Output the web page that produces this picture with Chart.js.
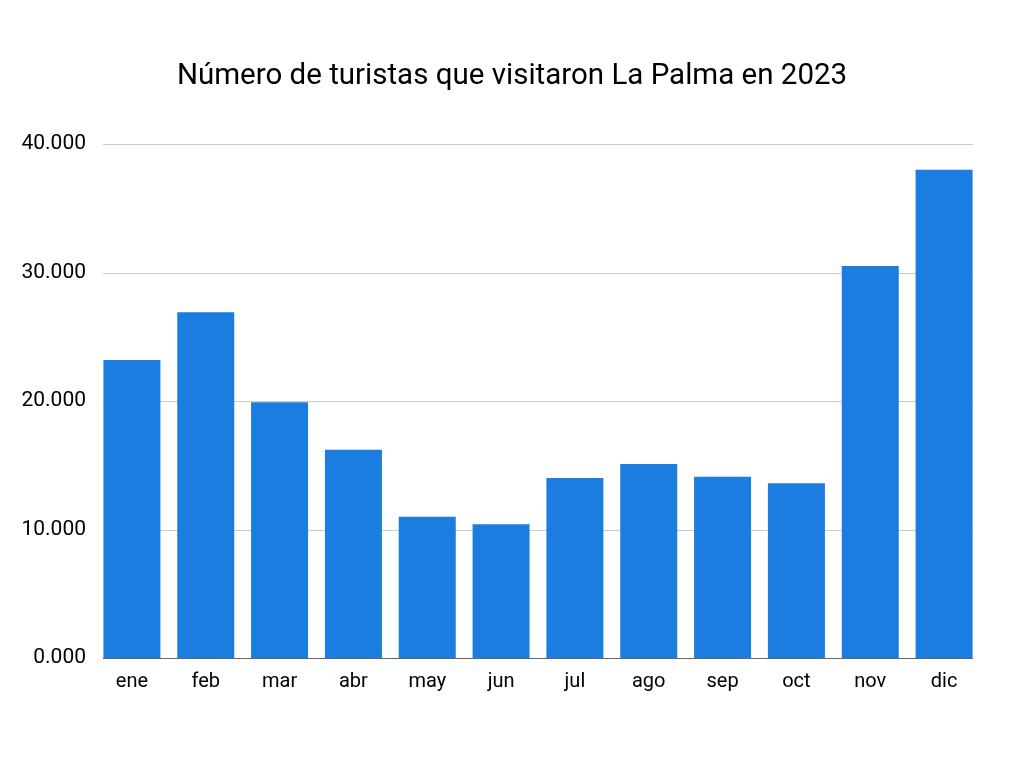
<!DOCTYPE html>
<html>
<head>
<meta charset="utf-8">
<script src="https://cdn.jsdelivr.net/npm/chart.js@4"></script>
<style>
  html, body { margin: 0; padding: 0; background: #fff; }
  #wrap { width: 1024px; height: 768px; }
</style>
</head>
<body>
<div id="wrap"><canvas id="chart" width="1024" height="768"></canvas></div>
<script>
// Data
const CHART_TITLE = "Número de turistas que visitaron La Palma en 2023";
const months = ["ene", "feb", "mar", "abr", "may", "jun", "jul", "ago", "sep", "oct", "nov", "dic"];
const tourists = [23200, 26900, 19900, 16200, 11000, 10400, 14000, 15100, 14100, 13600, 30500, 38000];
const yTickLabels = ["0.000", "10.000", "20.000", "30.000", "40.000"];

const BAR_COLOR = "#1a7ddf";

// Google-Sheets style grid: lines only span from first bar to last bar
const gridPlugin = {
  id: "sheetGrid",
  beforeDatasetsDraw(chart) {
    const { ctx } = chart;
    const y = chart.scales.y;
    const bars = chart.getDatasetMeta(0).data;
    const first = bars[0], last = bars[bars.length - 1];
    const x0 = Math.round(first.x - first.width / 2);
    const x1 = Math.round(last.x + last.width / 2);
    ctx.save();
    ctx.lineWidth = 1;
    y.ticks.forEach(t => {
      const py = Math.round(y.getPixelForValue(t.value)) + 0.5;
      ctx.strokeStyle = t.value === 0 ? "#666666" : "#cccccc";
      ctx.beginPath();
      ctx.moveTo(x0, py);
      ctx.lineTo(x1, py);
      ctx.stroke();
    });
    ctx.restore();
  },
};

// Title centred on the whole page (the built-in one centres on the padded box)
const pageTitlePlugin = {
  id: "pageTitle",
  afterDraw(chart) {
    const { ctx } = chart;
    ctx.save();
    ctx.fillStyle = "#000";
    ctx.font = "29.5px Roboto";
    ctx.textAlign = "center";
    ctx.textBaseline = "middle";
    ctx.fillText(CHART_TITLE, chart.width / 2, 77);
    ctx.restore();
  },
};

new Chart(document.getElementById("chart"), {
  type: "bar",
  data: {
    labels: months,
    datasets: [{
      data: tourists,
      backgroundColor: BAR_COLOR,
      categoryPercentage: 1,
      barPercentage: 0.772,
    }],
  },
  options: {
    responsive: false,
    animation: false,
    layout: { padding: { left: 0, right: 43, top: 144, bottom: 62 } },
    plugins: {
      legend: { display: false },
      tooltip: { enabled: false },
      title: { display: false },
    },
    scales: {
      x: {
        offset: true,
        grid: { display: false, drawTicks: false },
        border: { display: false },
        ticks: {
          color: "#000",
          font: { family: "Roboto", size: 20 },
          padding: 12,
          maxRotation: 0,
        },
      },
      y: {
        min: 0,
        max: 40000,
        grid: { display: false, drawTicks: false },
        border: { display: false },
        afterFit(scale) { scale.width = 95; },
        ticks: {
          stepSize: 10000,
          color: "#000",
          font: { family: "Roboto", size: 21 },
          padding: 9,
          callback: (v, i) => yTickLabels[i],
        },
      },
    },
  },
  plugins: [gridPlugin, pageTitlePlugin],
});
</script>
</body>
</html>
